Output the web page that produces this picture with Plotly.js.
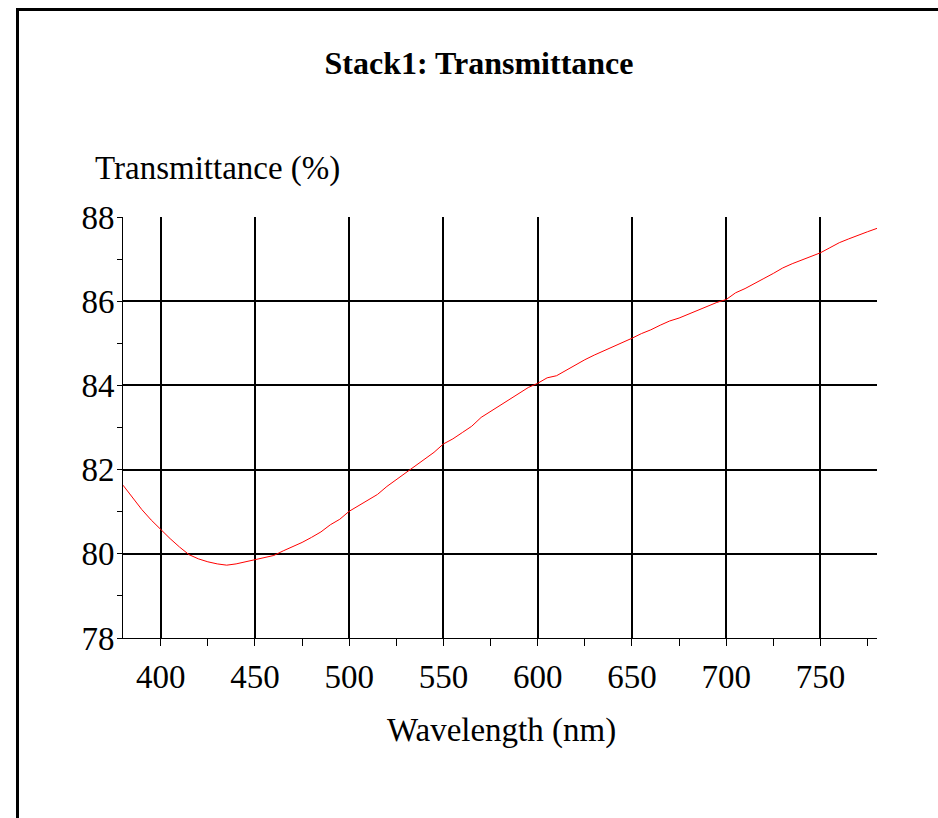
<!DOCTYPE html>
<html>
<head>
<meta charset="utf-8">
<script src="https://cdn.plot.ly/plotly-3.0.1.min.js"></script>
<style>
  html, body { margin: 0; padding: 0; background: #ffffff; }
  #chart { width: 938px; height: 818px; }
</style>
</head>
<body>
<div id="chart"></div>
<script>
// Wavelength (nm)
const wavelength = [380,385,390,395,400,405,410,415,420,425,430,435,440,445,450,455,460,465,470,475,
  480,485,490,495,500,505,510,515,520,525,530,535,540,545,550,555,560,565,570,575,
  580,585,590,595,600,605,610,615,620,625,630,635,640,645,650,655,660,665,670,675,
  680,685,690,695,700,705,710,715,720,725,730,735,740,745,750,755,760,765,770,775,780];
// Transmittance (%)
const transmittance = [81.63,81.33,81.05,80.80,80.57,80.36,80.16,79.98,79.88,79.81,79.76,79.73,79.76,79.81,79.86,79.90,79.96,80.07,80.17,80.27,
  80.39,80.52,80.69,80.82,81.01,81.15,81.29,81.41,81.60,81.76,81.94,82.08,82.25,82.41,82.61,82.73,82.88,83.03,83.24,83.38,
  83.52,83.65,83.80,83.95,84.05,84.18,84.23,84.36,84.47,84.61,84.72,84.82,84.91,85.01,85.12,85.23,85.32,85.43,85.53,85.60,
  85.69,85.78,85.88,85.97,86.04,86.20,86.30,86.43,86.54,86.66,86.79,86.89,86.98,87.07,87.15,87.27,87.39,87.48,87.57,87.65,87.73];

const chartTitle = "Stack1: Transmittance";
const yLabel = "Transmittance (%)";
const xLabel = "Wavelength (nm)";

const FONT = "Liberation Serif, Times New Roman, serif";

const trace = {
  x: wavelength,
  y: transmittance,
  type: "scatter",
  mode: "lines",
  line: { color: "#ff0000", width: 1 },
  hoverinfo: "skip",
  showlegend: false
};

const L = 123, R = 61, T = 217, B = 180;
const PW = 938 - L - R, PH = 818 - T - B;
function px2x(px) { return (px - L) / PW; }
function py2y(py) { return (818 - B - py) / PH; }

const layout = {
  width: 938,
  height: 818,
  margin: { l: L, r: R, t: T, b: B, pad: 0 },
  paper_bgcolor: "#ffffff",
  plot_bgcolor: "#ffffff",
  font: { family: FONT, color: "#000000", size: 33 },
  title: {
    text: "<b>" + chartTitle + "</b>",
    font: { family: FONT, size: 32, color: "#000000" },
    xref: "container", yref: "container",
    x: 479 / 938, xanchor: "center",
    y: 1 - 63 / 818, yanchor: "middle"
  },
  xaxis: {
    range: [380, 780],
    tickmode: "linear",
    tick0: 400,
    dtick: 50,
    ticks: "outside",
    ticklen: 7,
    tickwidth: 1,
    tickcolor: "#000000",
    ticklabelstandoff: 2,
    showline: true,
    linecolor: "#000000",
    linewidth: 1,
    showgrid: true,
    gridcolor: "#000000",
    gridwidth: 2,
    zeroline: false,
    tickfont: { family: FONT, size: 33, color: "#000000" },
    minor: { dtick: 25, tick0: 375, ticks: "outside", ticklen: 7, tickcolor: "#000000", tickwidth: 1, showgrid: false },
    fixedrange: true
  },
  yaxis: {
    range: [78, 88],
    tickmode: "linear",
    tick0: 78,
    dtick: 2,
    ticks: "outside",
    ticklen: 5,
    tickwidth: 1,
    tickcolor: "#000000",
    ticklabelstandoff: -4,
    showline: true,
    linecolor: "#000000",
    linewidth: 1,
    showgrid: true,
    gridcolor: "#000000",
    gridwidth: 2,
    zeroline: false,
    tickfont: { family: FONT, size: 33, color: "#000000" },
    minor: { dtick: 1, tick0: 77, ticks: "outside", ticklen: 5, tickcolor: "#000000", tickwidth: 1, showgrid: false },
    fixedrange: true
  },
  annotations: [
    {
      text: yLabel,
      xref: "paper", yref: "paper",
      x: px2x(93), xanchor: "left",
      y: py2y(168), yanchor: "middle",
      showarrow: false,
      font: { family: FONT, size: 33, color: "#000000" }
    },
    {
      text: xLabel,
      xref: "paper", yref: "paper",
      x: px2x(501), xanchor: "center",
      y: py2y(730), yanchor: "middle",
      showarrow: false,
      font: { family: FONT, size: 33, color: "#000000" }
    }
  ],
  shapes: [
    { type: "line", xref: "paper", yref: "paper",
      x0: px2x(17.5), x1: px2x(17.5), y0: py2y(8), y1: py2y(830),
      line: { color: "#000000", width: 3 } },
    { type: "line", xref: "paper", yref: "paper",
      x0: px2x(16), x1: px2x(945), y0: py2y(9.5), y1: py2y(9.5),
      line: { color: "#000000", width: 3 } }
  ]
};

Plotly.newPlot("chart", [trace], layout, { displayModeBar: false, staticPlot: true });
</script>
</body>
</html>
